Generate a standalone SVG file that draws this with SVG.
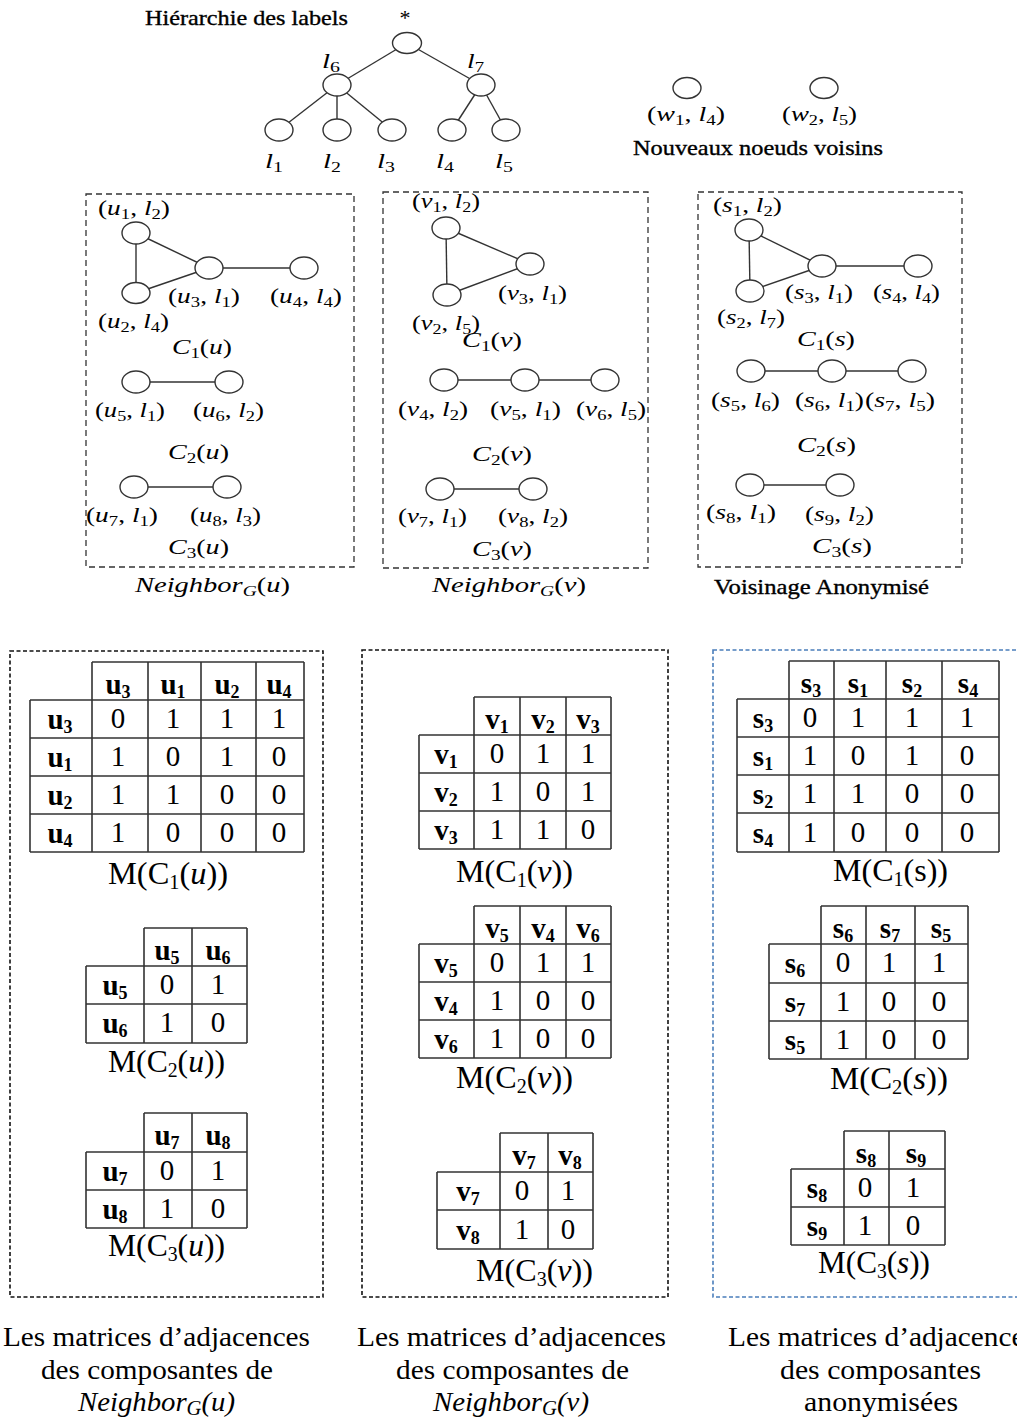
<svg xmlns="http://www.w3.org/2000/svg" width="1017" height="1418" viewBox="0 0 1017 1418">
<style>
text{font-family:"Liberation Serif","Times New Roman",serif;fill:#000}
.nd{fill:#fff;stroke:#333;stroke-width:1.4}
.ed line{stroke:#333;stroke-width:1.4}
.bx{fill:none;stroke:#333;stroke-width:1.3;stroke-dasharray:6 4}
.bk{fill:none;stroke:#111;stroke-width:1.6;stroke-dasharray:4 2.5}
.bl{fill:none;stroke:#4a7ebb;stroke-width:1.6;stroke-dasharray:4 2.5}
.m{font-size:22px}
.i{font-style:italic}
.s{font-size:15px}
.t{font-size:21px;stroke:#000;stroke-width:0.35}
.g{fill:none;stroke:#333;stroke-width:1.6}
.n{font-size:29px;text-anchor:middle}
.h{font-size:29px;font-weight:bold;text-anchor:middle}
.hs{font-size:18px}
.cap{font-size:32px}
.bc{font-size:28px}
.cs{font-size:20px}
</style>

<!-- titles -->
<text class="t" x="145" y="25" textLength="203" lengthAdjust="spacingAndGlyphs">Hiérarchie des labels</text>
<text class="t" x="633" y="155" textLength="250" lengthAdjust="spacingAndGlyphs">Nouveaux noeuds voisins</text>
<text class="t" x="714" y="594" textLength="215" lengthAdjust="spacingAndGlyphs">Voisinage Anonymisé</text>

<!-- dashed boxes -->
<rect class="bx" x="86" y="194" width="268" height="373"/>
<rect class="bx" x="383" y="192" width="265" height="376"/>
<rect class="bx" x="698" y="192" width="264" height="375"/>
<rect class="bk" x="10" y="651" width="313" height="646"/>
<rect class="bk" x="362" y="650" width="306" height="647"/>
<rect class="bl" x="713" y="650" width="330" height="647"/>

<!-- connectors -->
<g id="connectors" class="ed">
<line x1="407" y1="43" x2="337" y2="85"/>
<line x1="407" y1="43" x2="481" y2="85"/>
<line x1="337" y1="85" x2="279" y2="130"/>
<line x1="337" y1="85" x2="337" y2="130"/>
<line x1="337" y1="85" x2="392" y2="130"/>
<line x1="481" y1="85" x2="452" y2="130"/>
<line x1="481" y1="85" x2="506" y2="130"/>
<line x1="136" y1="233" x2="136" y2="293"/>
<line x1="136" y1="233" x2="209" y2="268"/>
<line x1="136" y1="293" x2="209" y2="268"/>
<line x1="209" y1="268" x2="304" y2="268"/>
<line x1="136" y1="382" x2="229" y2="382"/>
<line x1="134" y1="487" x2="227" y2="487"/>
<line x1="446" y1="228" x2="447" y2="295"/>
<line x1="446" y1="228" x2="530" y2="264"/>
<line x1="447" y1="295" x2="530" y2="264"/>
<line x1="444" y1="380" x2="525" y2="380"/>
<line x1="525" y1="380" x2="605" y2="380"/>
<line x1="440" y1="489" x2="533" y2="489"/>
<line x1="749" y1="230" x2="750" y2="291"/>
<line x1="749" y1="230" x2="822" y2="266"/>
<line x1="750" y1="291" x2="822" y2="266"/>
<line x1="822" y1="266" x2="918" y2="266"/>
<line x1="751" y1="371" x2="832" y2="371"/>
<line x1="832" y1="371" x2="912" y2="371"/>
<line x1="750" y1="485" x2="840" y2="485"/>
</g>

<!-- label hierarchy -->
<g id="h-root"><ellipse class="nd" cx="407" cy="43" rx="14.5" ry="10.5"/><text x="405" y="25" font-size="22" text-anchor="middle">*</text></g>
<g id="h-l6"><ellipse class="nd" cx="337" cy="85" rx="14" ry="11"/><text class="m" x="322" y="68" textLength="18" lengthAdjust="spacingAndGlyphs"><tspan class="i">l</tspan><tspan class="s" dy="4">6</tspan></text></g>
<g id="h-l7"><ellipse class="nd" cx="481" cy="85" rx="14" ry="11"/><text class="m" x="467" y="68" textLength="17" lengthAdjust="spacingAndGlyphs"><tspan class="i">l</tspan><tspan class="s" dy="4">7</tspan></text></g>
<g id="h-l1"><ellipse class="nd" cx="279" cy="130" rx="14" ry="11"/><text class="m" x="265" y="168" textLength="18" lengthAdjust="spacingAndGlyphs"><tspan class="i">l</tspan><tspan class="s" dy="4">1</tspan></text></g>
<g id="h-l2"><ellipse class="nd" cx="337" cy="130" rx="14" ry="11"/><text class="m" x="323" y="168" textLength="18" lengthAdjust="spacingAndGlyphs"><tspan class="i">l</tspan><tspan class="s" dy="4">2</tspan></text></g>
<g id="h-l3"><ellipse class="nd" cx="392" cy="130" rx="14" ry="11"/><text class="m" x="377" y="168" textLength="18" lengthAdjust="spacingAndGlyphs"><tspan class="i">l</tspan><tspan class="s" dy="4">3</tspan></text></g>
<g id="h-l4"><ellipse class="nd" cx="452" cy="130" rx="14" ry="11"/><text class="m" x="436" y="168" textLength="18" lengthAdjust="spacingAndGlyphs"><tspan class="i">l</tspan><tspan class="s" dy="4">4</tspan></text></g>
<g id="h-l5"><ellipse class="nd" cx="506" cy="130" rx="14" ry="11"/><text class="m" x="495" y="168" textLength="18" lengthAdjust="spacingAndGlyphs"><tspan class="i">l</tspan><tspan class="s" dy="4">5</tspan></text></g>

<!-- new neighbour nodes -->
<g id="w1"><ellipse class="nd" cx="687" cy="88" rx="14" ry="10.5"/><text class="m" x="647" y="121" textLength="78" lengthAdjust="spacingAndGlyphs">(<tspan class="i">w</tspan><tspan class="s" dy="4">1</tspan><tspan dy="-4">, </tspan><tspan class="i">l</tspan><tspan class="s" dy="4">4</tspan><tspan dy="-4">)</tspan></text></g>
<g id="w2"><ellipse class="nd" cx="824" cy="88" rx="14" ry="10.5"/><text class="m" x="782" y="121" textLength="75" lengthAdjust="spacingAndGlyphs">(<tspan class="i">w</tspan><tspan class="s" dy="4">2</tspan><tspan dy="-4">, </tspan><tspan class="i">l</tspan><tspan class="s" dy="4">5</tspan><tspan dy="-4">)</tspan></text></g>

<!-- Neighbor u -->
<g id="u1"><ellipse class="nd" cx="136" cy="233" rx="14" ry="11"/><text class="m" x="98" y="215" textLength="72" lengthAdjust="spacingAndGlyphs">(<tspan class="i">u</tspan><tspan class="s" dy="4">1</tspan><tspan dy="-4">, </tspan><tspan class="i">l</tspan><tspan class="s" dy="4">2</tspan><tspan dy="-4">)</tspan></text></g>
<g id="u2"><ellipse class="nd" cx="136" cy="293" rx="14" ry="10.5"/><text class="m" x="98" y="328" textLength="71" lengthAdjust="spacingAndGlyphs">(<tspan class="i">u</tspan><tspan class="s" dy="4">2</tspan><tspan dy="-4">, </tspan><tspan class="i">l</tspan><tspan class="s" dy="4">4</tspan><tspan dy="-4">)</tspan></text></g>
<g id="u3"><ellipse class="nd" cx="209" cy="268" rx="14" ry="11"/><text class="m" x="168" y="303" textLength="72" lengthAdjust="spacingAndGlyphs">(<tspan class="i">u</tspan><tspan class="s" dy="4">3</tspan><tspan dy="-4">, </tspan><tspan class="i">l</tspan><tspan class="s" dy="4">1</tspan><tspan dy="-4">)</tspan></text></g>
<g id="u4"><ellipse class="nd" cx="304" cy="268" rx="14" ry="11"/><text class="m" x="270" y="303" textLength="72" lengthAdjust="spacingAndGlyphs">(<tspan class="i">u</tspan><tspan class="s" dy="4">4</tspan><tspan dy="-4">, </tspan><tspan class="i">l</tspan><tspan class="s" dy="4">4</tspan><tspan dy="-4">)</tspan></text></g>
<text class="m" x="172" y="354" textLength="60" lengthAdjust="spacingAndGlyphs"><tspan class="i">C</tspan><tspan class="s" dy="4">1</tspan><tspan dy="-4">(</tspan><tspan class="i">u</tspan>)</text>
<g id="u5"><ellipse class="nd" cx="136" cy="382" rx="14" ry="11"/><text class="m" x="95" y="417" textLength="70" lengthAdjust="spacingAndGlyphs">(<tspan class="i">u</tspan><tspan class="s" dy="4">5</tspan><tspan dy="-4">, </tspan><tspan class="i">l</tspan><tspan class="s" dy="4">1</tspan><tspan dy="-4">)</tspan></text></g>
<g id="u6"><ellipse class="nd" cx="229" cy="382" rx="14" ry="11"/><text class="m" x="193" y="417" textLength="71" lengthAdjust="spacingAndGlyphs">(<tspan class="i">u</tspan><tspan class="s" dy="4">6</tspan><tspan dy="-4">, </tspan><tspan class="i">l</tspan><tspan class="s" dy="4">2</tspan><tspan dy="-4">)</tspan></text></g>
<text class="m" x="168" y="459" textLength="61" lengthAdjust="spacingAndGlyphs"><tspan class="i">C</tspan><tspan class="s" dy="4">2</tspan><tspan dy="-4">(</tspan><tspan class="i">u</tspan>)</text>
<g id="u7"><ellipse class="nd" cx="134" cy="487" rx="14" ry="11"/><text class="m" x="86" y="522" textLength="72" lengthAdjust="spacingAndGlyphs">(<tspan class="i">u</tspan><tspan class="s" dy="4">7</tspan><tspan dy="-4">, </tspan><tspan class="i">l</tspan><tspan class="s" dy="4">1</tspan><tspan dy="-4">)</tspan></text></g>
<g id="u8"><ellipse class="nd" cx="227" cy="487" rx="14" ry="11"/><text class="m" x="190" y="522" textLength="71" lengthAdjust="spacingAndGlyphs">(<tspan class="i">u</tspan><tspan class="s" dy="4">8</tspan><tspan dy="-4">, </tspan><tspan class="i">l</tspan><tspan class="s" dy="4">3</tspan><tspan dy="-4">)</tspan></text></g>
<text class="m" x="168" y="554" textLength="61" lengthAdjust="spacingAndGlyphs"><tspan class="i">C</tspan><tspan class="s" dy="4">3</tspan><tspan dy="-4">(</tspan><tspan class="i">u</tspan>)</text>
<text class="m" x="135" y="592" textLength="155" lengthAdjust="spacingAndGlyphs"><tspan class="i">Neighbor</tspan><tspan class="s i" dy="4">G</tspan><tspan dy="-4">(</tspan><tspan class="i">u</tspan>)</text>

<!-- Neighbor v -->
<g id="v1"><ellipse class="nd" cx="446" cy="228" rx="14" ry="11"/><text class="m" x="412" y="208" textLength="68" lengthAdjust="spacingAndGlyphs">(<tspan class="i">v</tspan><tspan class="s" dy="4">1</tspan><tspan dy="-4">, </tspan><tspan class="i">l</tspan><tspan class="s" dy="4">2</tspan><tspan dy="-4">)</tspan></text></g>
<g id="v2"><ellipse class="nd" cx="447" cy="295" rx="14" ry="11"/><text class="m" x="412" y="330" textLength="68" lengthAdjust="spacingAndGlyphs">(<tspan class="i">v</tspan><tspan class="s" dy="4">2</tspan><tspan dy="-4">, </tspan><tspan class="i">l</tspan><tspan class="s" dy="4">5</tspan><tspan dy="-4">)</tspan></text></g>
<g id="v3"><ellipse class="nd" cx="530" cy="264" rx="14" ry="11"/><text class="m" x="498" y="300" textLength="69" lengthAdjust="spacingAndGlyphs">(<tspan class="i">v</tspan><tspan class="s" dy="4">3</tspan><tspan dy="-4">, </tspan><tspan class="i">l</tspan><tspan class="s" dy="4">1</tspan><tspan dy="-4">)</tspan></text></g>
<text class="m" x="462" y="347" textLength="60" lengthAdjust="spacingAndGlyphs"><tspan class="i">C</tspan><tspan class="s" dy="4">1</tspan><tspan dy="-4">(</tspan><tspan class="i">v</tspan>)</text>
<g id="v4"><ellipse class="nd" cx="444" cy="380" rx="14" ry="11"/><text class="m" x="398" y="416" textLength="70" lengthAdjust="spacingAndGlyphs">(<tspan class="i">v</tspan><tspan class="s" dy="4">4</tspan><tspan dy="-4">, </tspan><tspan class="i">l</tspan><tspan class="s" dy="4">2</tspan><tspan dy="-4">)</tspan></text></g>
<g id="v5"><ellipse class="nd" cx="525" cy="380" rx="14" ry="11"/><text class="m" x="490" y="416" textLength="71" lengthAdjust="spacingAndGlyphs">(<tspan class="i">v</tspan><tspan class="s" dy="4">5</tspan><tspan dy="-4">, </tspan><tspan class="i">l</tspan><tspan class="s" dy="4">1</tspan><tspan dy="-4">)</tspan></text></g>
<g id="v6"><ellipse class="nd" cx="605" cy="380" rx="14" ry="11"/><text class="m" x="576" y="416" textLength="70" lengthAdjust="spacingAndGlyphs">(<tspan class="i">v</tspan><tspan class="s" dy="4">6</tspan><tspan dy="-4">, </tspan><tspan class="i">l</tspan><tspan class="s" dy="4">5</tspan><tspan dy="-4">)</tspan></text></g>
<text class="m" x="472" y="461" textLength="60" lengthAdjust="spacingAndGlyphs"><tspan class="i">C</tspan><tspan class="s" dy="4">2</tspan><tspan dy="-4">(</tspan><tspan class="i">v</tspan>)</text>
<g id="v7"><ellipse class="nd" cx="440" cy="489" rx="14" ry="11"/><text class="m" x="398" y="523" textLength="69" lengthAdjust="spacingAndGlyphs">(<tspan class="i">v</tspan><tspan class="s" dy="4">7</tspan><tspan dy="-4">, </tspan><tspan class="i">l</tspan><tspan class="s" dy="4">1</tspan><tspan dy="-4">)</tspan></text></g>
<g id="v8"><ellipse class="nd" cx="533" cy="489" rx="14" ry="11"/><text class="m" x="498" y="523" textLength="70" lengthAdjust="spacingAndGlyphs">(<tspan class="i">v</tspan><tspan class="s" dy="4">8</tspan><tspan dy="-4">, </tspan><tspan class="i">l</tspan><tspan class="s" dy="4">2</tspan><tspan dy="-4">)</tspan></text></g>
<text class="m" x="472" y="556" textLength="60" lengthAdjust="spacingAndGlyphs"><tspan class="i">C</tspan><tspan class="s" dy="4">3</tspan><tspan dy="-4">(</tspan><tspan class="i">v</tspan>)</text>
<text class="m" x="432" y="592" textLength="154" lengthAdjust="spacingAndGlyphs"><tspan class="i">Neighbor</tspan><tspan class="s i" dy="4">G</tspan><tspan dy="-4">(</tspan><tspan class="i">v</tspan>)</text>

<!-- anonymised neighbourhood -->
<g id="s1"><ellipse class="nd" cx="749" cy="230" rx="14" ry="11"/><text class="m" x="713" y="212" textLength="69" lengthAdjust="spacingAndGlyphs">(<tspan class="i">s</tspan><tspan class="s" dy="4">1</tspan><tspan dy="-4">, </tspan><tspan class="i">l</tspan><tspan class="s" dy="4">2</tspan><tspan dy="-4">)</tspan></text></g>
<g id="s2"><ellipse class="nd" cx="750" cy="291" rx="14" ry="11"/><text class="m" x="717" y="324" textLength="68" lengthAdjust="spacingAndGlyphs">(<tspan class="i">s</tspan><tspan class="s" dy="4">2</tspan><tspan dy="-4">, </tspan><tspan class="i">l</tspan><tspan class="s" dy="4">7</tspan><tspan dy="-4">)</tspan></text></g>
<g id="s3"><ellipse class="nd" cx="822" cy="266" rx="14" ry="11"/><text class="m" x="785" y="299" textLength="68" lengthAdjust="spacingAndGlyphs">(<tspan class="i">s</tspan><tspan class="s" dy="4">3</tspan><tspan dy="-4">, </tspan><tspan class="i">l</tspan><tspan class="s" dy="4">1</tspan><tspan dy="-4">)</tspan></text></g>
<g id="s4"><ellipse class="nd" cx="918" cy="266" rx="14" ry="11"/><text class="m" x="873" y="299" textLength="67" lengthAdjust="spacingAndGlyphs">(<tspan class="i">s</tspan><tspan class="s" dy="4">4</tspan><tspan dy="-4">, </tspan><tspan class="i">l</tspan><tspan class="s" dy="4">4</tspan><tspan dy="-4">)</tspan></text></g>
<text class="m" x="797" y="346" textLength="58" lengthAdjust="spacingAndGlyphs"><tspan class="i">C</tspan><tspan class="s" dy="4">1</tspan><tspan dy="-4">(</tspan><tspan class="i">s</tspan>)</text>
<g id="s5"><ellipse class="nd" cx="751" cy="371" rx="14" ry="11"/><text class="m" x="711" y="407" textLength="69" lengthAdjust="spacingAndGlyphs">(<tspan class="i">s</tspan><tspan class="s" dy="4">5</tspan><tspan dy="-4">, </tspan><tspan class="i">l</tspan><tspan class="s" dy="4">6</tspan><tspan dy="-4">)</tspan></text></g>
<g id="s6"><ellipse class="nd" cx="832" cy="371" rx="14" ry="11"/><text class="m" x="795" y="407" textLength="69" lengthAdjust="spacingAndGlyphs">(<tspan class="i">s</tspan><tspan class="s" dy="4">6</tspan><tspan dy="-4">, </tspan><tspan class="i">l</tspan><tspan class="s" dy="4">1</tspan><tspan dy="-4">)</tspan></text></g>
<g id="s7"><ellipse class="nd" cx="912" cy="371" rx="14" ry="11"/><text class="m" x="865" y="407" textLength="70" lengthAdjust="spacingAndGlyphs">(<tspan class="i">s</tspan><tspan class="s" dy="4">7</tspan><tspan dy="-4">, </tspan><tspan class="i">l</tspan><tspan class="s" dy="4">5</tspan><tspan dy="-4">)</tspan></text></g>
<text class="m" x="797" y="452" textLength="59" lengthAdjust="spacingAndGlyphs"><tspan class="i">C</tspan><tspan class="s" dy="4">2</tspan><tspan dy="-4">(</tspan><tspan class="i">s</tspan>)</text>
<g id="s8"><ellipse class="nd" cx="750" cy="485" rx="14" ry="11"/><text class="m" x="706" y="519" textLength="70" lengthAdjust="spacingAndGlyphs">(<tspan class="i">s</tspan><tspan class="s" dy="4">8</tspan><tspan dy="-4">, </tspan><tspan class="i">l</tspan><tspan class="s" dy="4">1</tspan><tspan dy="-4">)</tspan></text></g>
<g id="s9"><ellipse class="nd" cx="840" cy="485" rx="14" ry="11"/><text class="m" x="805" y="521" textLength="69" lengthAdjust="spacingAndGlyphs">(<tspan class="i">s</tspan><tspan class="s" dy="4">9</tspan><tspan dy="-4">, </tspan><tspan class="i">l</tspan><tspan class="s" dy="4">2</tspan><tspan dy="-4">)</tspan></text></g>
<text class="m" x="812" y="553" textLength="60" lengthAdjust="spacingAndGlyphs"><tspan class="i">C</tspan><tspan class="s" dy="4">3</tspan><tspan dy="-4">(</tspan><tspan class="i">s</tspan>)</text>

<!-- matrices u -->
<g id="mat-c1u">
<path class="g" d="M92 662H304M30 700H304M30 738H304M30 776H304M30 814H304M30 852H304M30 700V852M92 662V852M148 662V852M201 662V852M256 662V852M304 662V852"/>
<text class="h" x="118" y="694">u<tspan class="hs" dy="4">3</tspan></text>
<text class="h" x="173" y="694">u<tspan class="hs" dy="4">1</tspan></text>
<text class="h" x="227" y="694">u<tspan class="hs" dy="4">2</tspan></text>
<text class="h" x="279" y="694">u<tspan class="hs" dy="4">4</tspan></text>
<text class="h" x="60" y="729">u<tspan class="hs" dy="4">3</tspan></text>
<text class="h" x="60" y="767">u<tspan class="hs" dy="4">1</tspan></text>
<text class="h" x="60" y="805">u<tspan class="hs" dy="4">2</tspan></text>
<text class="h" x="60" y="843">u<tspan class="hs" dy="4">4</tspan></text>
<text class="n" x="118 173 227 279" y="728">0111</text>
<text class="n" x="118 173 227 279" y="766">1010</text>
<text class="n" x="118 173 227 279" y="804">1100</text>
<text class="n" x="118 173 227 279" y="842">1000</text>
<text class="cap" x="108" y="884" textLength="120" lengthAdjust="spacingAndGlyphs">M(C<tspan class="cs" dy="5">1</tspan><tspan dy="-5">(</tspan><tspan class="i">u</tspan>))</text>
</g>
<g id="mat-c2u">
<path class="g" d="M144 928H247M86 966H247M86 1004H247M86 1043H247M86 966V1043M144 928V1043M192 928V1043M247 928V1043"/>
<text class="h" x="167" y="960">u<tspan class="hs" dy="4">5</tspan></text>
<text class="h" x="218" y="960">u<tspan class="hs" dy="4">6</tspan></text>
<text class="h" x="115" y="995">u<tspan class="hs" dy="4">5</tspan></text>
<text class="h" x="115" y="1033">u<tspan class="hs" dy="4">6</tspan></text>
<text class="n" x="167 218" y="994">01</text>
<text class="n" x="167 218" y="1032">10</text>
<text class="cap" x="108" y="1072" textLength="117" lengthAdjust="spacingAndGlyphs">M(C<tspan class="cs" dy="5">2</tspan><tspan dy="-5">(</tspan><tspan class="i">u</tspan>))</text>
</g>
<g id="mat-c3u">
<path class="g" d="M144 1113H247M86 1152H247M86 1190H247M86 1228H247M86 1152V1228M144 1113V1228M192 1113V1228M247 1113V1228"/>
<text class="h" x="167" y="1145">u<tspan class="hs" dy="4">7</tspan></text>
<text class="h" x="218" y="1145">u<tspan class="hs" dy="4">8</tspan></text>
<text class="h" x="115" y="1181">u<tspan class="hs" dy="4">7</tspan></text>
<text class="h" x="115" y="1219">u<tspan class="hs" dy="4">8</tspan></text>
<text class="n" x="167 218" y="1180">01</text>
<text class="n" x="167 218" y="1218">10</text>
<text class="cap" x="108" y="1256" textLength="117" lengthAdjust="spacingAndGlyphs">M(C<tspan class="cs" dy="5">3</tspan><tspan dy="-5">(</tspan><tspan class="i">u</tspan>))</text>
</g>

<!-- matrices v -->
<g id="mat-c1v">
<path class="g" d="M474 697H611M419 735H611M419 773H611M419 811H611M419 849H611M419 735V849M474 697V849M520 697V849M566 697V849M611 697V849"/>
<text class="h" x="497" y="729">v<tspan class="hs" dy="4">1</tspan></text>
<text class="h" x="543" y="729">v<tspan class="hs" dy="4">2</tspan></text>
<text class="h" x="588" y="729">v<tspan class="hs" dy="4">3</tspan></text>
<text class="h" x="446" y="764">v<tspan class="hs" dy="4">1</tspan></text>
<text class="h" x="446" y="802">v<tspan class="hs" dy="4">2</tspan></text>
<text class="h" x="446" y="840">v<tspan class="hs" dy="4">3</tspan></text>
<text class="n" x="497 543 588" y="763">011</text>
<text class="n" x="497 543 588" y="801">101</text>
<text class="n" x="497 543 588" y="839">110</text>
<text class="cap" x="456" y="882" textLength="117" lengthAdjust="spacingAndGlyphs">M(C<tspan class="cs" dy="5">1</tspan><tspan dy="-5">(</tspan><tspan class="i">v</tspan>))</text>
</g>
<g id="mat-c2v">
<path class="g" d="M474 906H611M419 944H611M419 982H611M419 1020H611M419 1058H611M419 944V1058M474 906V1058M520 906V1058M566 906V1058M611 906V1058"/>
<text class="h" x="497" y="938">v<tspan class="hs" dy="4">5</tspan></text>
<text class="h" x="543" y="938">v<tspan class="hs" dy="4">4</tspan></text>
<text class="h" x="588" y="938">v<tspan class="hs" dy="4">6</tspan></text>
<text class="h" x="446" y="973">v<tspan class="hs" dy="4">5</tspan></text>
<text class="h" x="446" y="1011">v<tspan class="hs" dy="4">4</tspan></text>
<text class="h" x="446" y="1049">v<tspan class="hs" dy="4">6</tspan></text>
<text class="n" x="497 543 588" y="972">011</text>
<text class="n" x="497 543 588" y="1010">100</text>
<text class="n" x="497 543 588" y="1048">100</text>
<text class="cap" x="456" y="1088" textLength="117" lengthAdjust="spacingAndGlyphs">M(C<tspan class="cs" dy="5">2</tspan><tspan dy="-5">(</tspan><tspan class="i">v</tspan>))</text>
</g>
<g id="mat-c3v">
<path class="g" d="M500 1133H593M437 1172H593M437 1210H593M437 1249H593M437 1172V1249M500 1133V1249M548 1133V1249M593 1133V1249"/>
<text class="h" x="524" y="1165">v<tspan class="hs" dy="4">7</tspan></text>
<text class="h" x="570" y="1165">v<tspan class="hs" dy="4">8</tspan></text>
<text class="h" x="468" y="1201">v<tspan class="hs" dy="4">7</tspan></text>
<text class="h" x="468" y="1240">v<tspan class="hs" dy="4">8</tspan></text>
<text class="n" x="522 568" y="1200">01</text>
<text class="n" x="522 568" y="1239">10</text>
<text class="cap" x="476" y="1281" textLength="117" lengthAdjust="spacingAndGlyphs">M(C<tspan class="cs" dy="5">3</tspan><tspan dy="-5">(</tspan><tspan class="i">v</tspan>))</text>
</g>

<!-- matrices s -->
<g id="mat-c1s">
<path class="g" d="M789 661H999M737 699H999M737 737H999M737 775H999M737 813H999M737 852H999M737 699V852M789 661V852M834 661V852M886 661V852M942 661V852M999 661V852"/>
<text class="h" x="811" y="693">s<tspan class="hs" dy="4">3</tspan></text>
<text class="h" x="858" y="693">s<tspan class="hs" dy="4">1</tspan></text>
<text class="h" x="912" y="693">s<tspan class="hs" dy="4">2</tspan></text>
<text class="h" x="968" y="693">s<tspan class="hs" dy="4">4</tspan></text>
<text class="h" x="763" y="728">s<tspan class="hs" dy="4">3</tspan></text>
<text class="h" x="763" y="766">s<tspan class="hs" dy="4">1</tspan></text>
<text class="h" x="763" y="804">s<tspan class="hs" dy="4">2</tspan></text>
<text class="h" x="763" y="843">s<tspan class="hs" dy="4">4</tspan></text>
<text class="n" x="810 858 912 967" y="727">0111</text>
<text class="n" x="810 858 912 967" y="765">1010</text>
<text class="n" x="810 858 912 967" y="803">1100</text>
<text class="n" x="810 858 912 967" y="842">1000</text>
<text class="cap" x="833" y="881" textLength="115" lengthAdjust="spacingAndGlyphs">M(C<tspan class="cs" dy="5">1</tspan><tspan dy="-5">(s))</tspan></text>
</g>
<g id="mat-c2s">
<path class="g" d="M821 906H968M769 944H968M769 983H968M769 1021H968M769 1059H968M769 944V1059M821 906V1059M866 906V1059M915 906V1059M968 906V1059"/>
<text class="h" x="843" y="938">s<tspan class="hs" dy="4">6</tspan></text>
<text class="h" x="890" y="938">s<tspan class="hs" dy="4">7</tspan></text>
<text class="h" x="941" y="938">s<tspan class="hs" dy="4">5</tspan></text>
<text class="h" x="795" y="973">s<tspan class="hs" dy="4">6</tspan></text>
<text class="h" x="795" y="1012">s<tspan class="hs" dy="4">7</tspan></text>
<text class="h" x="795" y="1050">s<tspan class="hs" dy="4">5</tspan></text>
<text class="n" x="843 889 939" y="972">011</text>
<text class="n" x="843 889 939" y="1011">100</text>
<text class="n" x="843 889 939" y="1049">100</text>
<text class="cap" x="830" y="1089" textLength="118" lengthAdjust="spacingAndGlyphs">M(C<tspan class="cs" dy="5">2</tspan><tspan dy="-5">(</tspan><tspan class="i">s</tspan>))</text>
</g>
<g id="mat-c3s">
<path class="g" d="M844 1131H945M791 1169H945M791 1207H945M791 1245H945M791 1169V1245M844 1131V1245M889 1131V1245M945 1131V1245"/>
<text class="h" x="866" y="1163">s<tspan class="hs" dy="4">8</tspan></text>
<text class="h" x="916" y="1163">s<tspan class="hs" dy="4">9</tspan></text>
<text class="h" x="817" y="1198">s<tspan class="hs" dy="4">8</tspan></text>
<text class="h" x="817" y="1236">s<tspan class="hs" dy="4">9</tspan></text>
<text class="n" x="865 913" y="1197">01</text>
<text class="n" x="865 913" y="1235">10</text>
<text class="cap" x="818" y="1273" textLength="112" lengthAdjust="spacingAndGlyphs">M(C<tspan class="cs" dy="5">3</tspan><tspan dy="-5">(</tspan><tspan class="i">s</tspan>))</text>
</g>

<!-- bottom captions -->
<g id="captions">
<text class="bc" x="3" y="1346" textLength="307" lengthAdjust="spacingAndGlyphs">Les matrices d’adjacences</text>
<text class="bc" x="41" y="1379" textLength="232" lengthAdjust="spacingAndGlyphs">des composantes de</text>
<text class="bc i" x="78" y="1411" textLength="157" lengthAdjust="spacingAndGlyphs">Neighbor<tspan class="cs" dy="4">G</tspan><tspan dy="-4">(u)</tspan></text>
<text class="bc" x="357" y="1346" textLength="309" lengthAdjust="spacingAndGlyphs">Les matrices d’adjacences</text>
<text class="bc" x="396" y="1379" textLength="233" lengthAdjust="spacingAndGlyphs">des composantes de</text>
<text class="bc i" x="433" y="1411" textLength="156" lengthAdjust="spacingAndGlyphs">Neighbor<tspan class="cs" dy="4">G</tspan><tspan dy="-4">(v)</tspan></text>
<text class="bc" x="728" y="1346" textLength="308" lengthAdjust="spacingAndGlyphs">Les matrices d’adjacences</text>
<text class="bc" x="780" y="1379" textLength="201" lengthAdjust="spacingAndGlyphs">des composantes</text>
<text class="bc" x="804" y="1411" textLength="154" lengthAdjust="spacingAndGlyphs">anonymisées</text>
</g>
</svg>
